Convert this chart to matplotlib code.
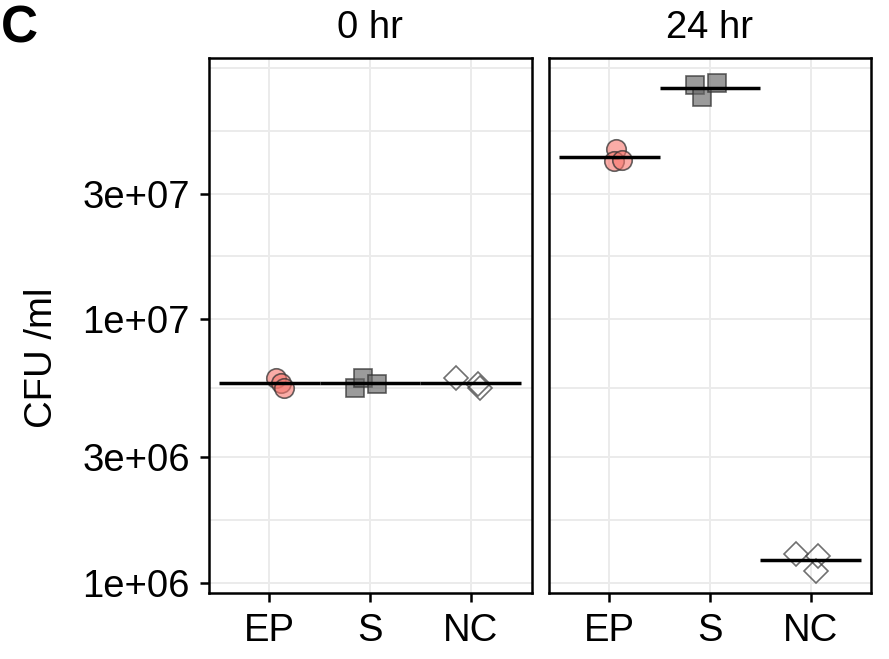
import numpy as np
import matplotlib
matplotlib.use("Agg")
import matplotlib.pyplot as plt

plt.rcParams['font.family'] = ['Liberation Sans', 'DejaVu Sans']

# CFU/ml per replicate, by time point and group
groups = ["EP", "S", "NC"]
times = ["0 hr", "24 hr"]
cfu = {
    "0 hr": {
        "EP": [6.00e6, 5.71e6, 5.47e6],
        "S": [5.48e6, 5.98e6, 5.68e6],
        "NC": [6.00e6, 5.66e6, 5.50e6],
    },
    "24 hr": {
        "EP": [4.43e7, 3.99e7, 4.03e7],
        "S": [7.78e7, 6.96e7, 7.89e7],
        "NC": [1.284e6, 1.266e6, 1.111e6],
    },
}
# horizontal jitter of the replicate points
jitter = {
    "0 hr": {"EP": [0.07, 0.116, 0.149], "S": [-0.149, -0.07, 0.07], "NC": [-0.146, 0.066, 0.085]},
    "24 hr": {"EP": [0.07, 0.05, 0.127], "S": [-0.149, -0.077, 0.067], "NC": [-0.146, 0.076, 0.053]},
}
y_breaks = [1e6, 3e6, 1e7, 3e7]
y_labels = ["1e+06", "3e+06", "1e+07", "3e+07"]

styles = {
    "EP": dict(marker="o", ms=14, mfc=(0.973, 0.463, 0.427, 0.6), mec=(0.2, 0.2, 0.2, 0.75), mew=1.2),
    "S": dict(marker="s", ms=12.8, mfc=(0.4, 0.4, 0.4, 0.65), mec=(0.2, 0.2, 0.2, 0.75), mew=1.2),
    "NC": dict(marker="D", ms=11.8, mfc="none", mec=(0.25, 0.25, 0.25, 0.75), mew=1.2),
}

# grid lines like ggplot: minor breaks at midpoints, range extended by one step
lb = np.log10(y_breaks)
bd = lb[1] - lb[0]
ext = np.concatenate([[lb[0] - bd], lb, [lb[-1] + bd]])
minor = (ext[:-1] + ext[1:]) / 2
grid_y = 10 ** np.concatenate([ext, minor])

fig = plt.figure(figsize=(8.89, 6.59), dpi=100)
W, H = 889, 659
panels = [(208.5, 531.5), (549, 871)]
top, bottom = 58, 593

for k, (t, (x0, x1)) in enumerate(zip(times, panels)):
    ax = fig.add_axes([x0 / W, 1 - bottom / H, (x1 - x0) / W, (bottom - top) / H])
    ax.set_yscale("log")
    ax.set_xlim(-0.6, 2.6)
    ax.set_ylim(10 ** 5.961, 10 ** 7.992)
    for gy in grid_y:
        ax.axhline(gy, color="#EBEBEB", lw=1.4, zorder=0)
    for i in range(len(groups)):
        ax.axvline(i, color="#EBEBEB", lw=1.4, zorder=0)

    for i, g in enumerate(groups):
        vals = np.array(cfu[t][g])
        xs = i + np.array(jitter[t][g])
        ax.plot(xs, vals, ls="none", zorder=3, **styles[g])
        gmean = 10 ** np.mean(np.log10(vals))
        ax.plot([i - 0.5, i + 0.5], [gmean, gmean], color="black", lw=2.5, zorder=4,
                solid_capstyle="butt")

    ax.set_xticks(range(len(groups)))
    ax.set_xticklabels(groups, fontsize=27.5)
    ax.tick_params(axis="x", length=6.5, width=1.8, pad=8, color="black")
    ax.minorticks_off()
    if k == 0:
        ax.set_yticks(y_breaks)
        ax.set_yticklabels(y_labels, fontsize=27.5)
        ax.tick_params(axis="y", length=6.5, width=1.8, pad=7)
    else:
        ax.set_yticks([])
    for s in ax.spines.values():
        s.set_linewidth(1.8)
        s.set_color("black")
    fig.text((x0 + x1) / 2 / W, 1 - 28 / H, t, ha="center", va="center", fontsize=27.5)

fig.text(42 / W, 1 - 357.5 / H, "CFU /ml", rotation=90, ha="center", va="center", fontsize=27.5)
fig.text(1 / W, 1 - 29 / H, "C", ha="left", va="center", fontsize=37, fontweight="bold")

fig.savefig("out.png", dpi=100)
